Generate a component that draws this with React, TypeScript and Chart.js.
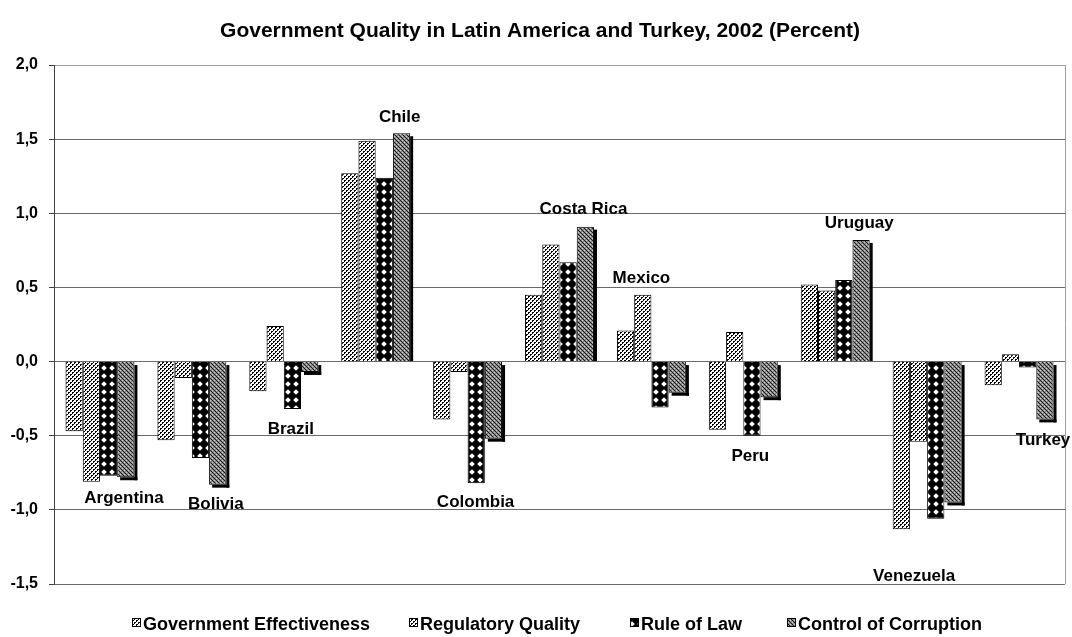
import React, { useEffect, useRef } from 'react';
import { Chart, registerables } from 'chart.js';

Chart.register(...registerables);

const countries = ['Argentina', 'Bolivia', 'Brazil', 'Chile', 'Colombia', 'Costa Rica', 'Mexico', 'Peru', 'Uruguay', 'Venezuela', 'Turkey'];
const seriesNames = ['Government Effectiveness', 'Regulatory Quality', 'Rule of Law', 'Control of Corruption'];
const govEffectiveness = [-0.47, -0.53, -0.2, 1.27, -0.39, 0.45, 0.21, -0.46, 0.52, -1.13, -0.16];
const regulatoryQuality = [-0.81, -0.11, 0.24, 1.49, -0.07, 0.79, 0.45, 0.2, 0.48, -0.54, 0.05];
const ruleOfLaw = [-0.77, -0.65, -0.32, 1.24, -0.82, 0.67, -0.31, -0.5, 0.55, -1.06, -0.04];
const controlOfCorruption = [-0.78, -0.83, -0.07, 1.54, -0.52, 0.91, -0.21, -0.24, 0.82, -0.95, -0.39];
const yMin = -1.5;
const yMax = 2.0;
const yStep = 0.5;
const titleText = 'Government Quality in Latin America and Turkey, 2002 (Percent)';

// label placement (pixel offsets from group centre / extreme bar)
const labelDx = [24, 24, 7, 24, 8, 24, -10, 7, 24, -13, 24];
const labelDy = [15, 18, 19, -17, 18, -19, -18, 19, -18, 46, 20];
const legendX = [132, 409, 630, 787];

const FONT = '"Liberation Sans", Arial, sans-serif';

function makePattern(kind: number): CanvasPattern | string {
  const c = document.createElement('canvas');
  const size = kind === 2 ? 8 : 4;
  c.width = size;
  c.height = size;
  const g = c.getContext('2d');
  if (!g) return '#888';
  if (kind === 0) {
    g.fillStyle = '#fff';
    g.fillRect(0, 0, size, size);
    g.fillStyle = '#000';
    g.fillRect(0, 0, 2, 1);
    g.fillRect(0, 1, 1, 1);
    g.fillRect(2, 2, 2, 1);
    g.fillRect(2, 3, 1, 1);
  } else if (kind === 1) {
    g.fillStyle = '#fff';
    g.fillRect(0, 0, size, size);
    g.fillStyle = '#000';
    for (let y = 0; y < size; y++) {
      for (let x = 0; x < size; x++) {
        if ((x + y) % 4 === 3 || (x + y) % 4 === 2) g.fillRect(x, y, 1, 1);
      }
    }
    g.fillStyle = '#fff';
    for (let y = 0; y < size; y++) {
      for (let x = 0; x < size; x++) {
        if ((x + y) % 4 === 2 && (x % 2 === 0)) g.fillRect(x, y, 1, 1);
      }
    }
  } else if (kind === 2) {
    g.fillStyle = '#fff';
    g.fillRect(0, 0, size, size);
    g.fillStyle = '#000';
    g.beginPath();
    g.moveTo(4, -1.2);
    g.lineTo(9.2, 4);
    g.lineTo(4, 9.2);
    g.lineTo(-1.2, 4);
    g.closePath();
    g.fill();
  } else {
    g.fillStyle = '#8a8a8a';
    g.fillRect(0, 0, size, size);
    g.fillStyle = '#1a1a1a';
    g.fillRect(0, 0, 1, 1);
    g.fillRect(2, 2, 1, 1);
    g.fillRect(1, 1, 1, 1);
    g.fillRect(3, 3, 1, 1);
    g.fillStyle = '#c8c8c8';
    g.fillRect(2, 0, 1, 1);
    g.fillRect(0, 2, 1, 1);
  }
  const p = g.createPattern(c, 'repeat');
  return p || '#888';
}

export default function App() {
  const ref = useRef<HTMLCanvasElement | null>(null);

  useEffect(() => {
    document.body.style.margin = '0';
    const canvas = ref.current;
    if (!canvas) return;
    const patterns = [0, 1, 2, 3].map((k) => makePattern(k));
    const values = [govEffectiveness, regulatoryQuality, ruleOfLaw, controlOfCorruption];

    const decorPlugin = {
      id: 'decor',
      beforeDatasetsDraw(chart: any) {
        const { ctx, chartArea } = chart;
        ctx.save();
        ctx.strokeStyle = '#a0a0a0';
        ctx.lineWidth = 1;
        ctx.beginPath();
        ctx.moveTo(chartArea.right + 0.5, chartArea.top);
        ctx.lineTo(chartArea.right + 0.5, chartArea.bottom);
        ctx.stroke();
        ctx.restore();
      },
      beforeDatasetDraw(chart: any, args: any) {
        if (args.index !== 3) return;
        const { ctx } = chart;
        const meta = chart.getDatasetMeta(3);
        ctx.save();
        ctx.fillStyle = '#000';
        meta.data.forEach((el: any) => {
          const { x, y, base, width } = el.getProps(['x', 'y', 'base', 'width'], true);
          const right = x + width / 2;
          const top = Math.min(y, base);
          const bottom = Math.max(y, base);
          const neg = y > base;
          ctx.fillRect(right, top + 3, 3, bottom - top - 3 + (neg ? 3 : 0));
          if (neg) ctx.fillRect(x - width / 2 + 3, bottom, width, 3);
        });
        ctx.restore();
      },
      afterDraw(chart: any) {
        const { ctx } = chart;
        const xs = chart.scales.x;
        const ys = chart.scales.y;
        ctx.save();
        // title
        ctx.fillStyle = '#000';
        ctx.font = `bold 21px ${FONT}`;
        ctx.textAlign = 'center';
        ctx.textBaseline = 'alphabetic';
        ctx.fillText(titleText, 540, 37);
        // country labels
        ctx.font = `bold 17px ${FONT}`;
        countries.forEach((name, i) => {
          const vals = values.map((s) => s[i]);
          const up = labelDy[i] < 0;
          const ext = up ? Math.max(...vals) : Math.min(...vals);
          const cx = xs.getPixelForValue(i) + labelDx[i];
          const cy = ys.getPixelForValue(ext) + labelDy[i];
          ctx.fillText(name, cx, cy + 6);
        });
        // legend
        ctx.font = `bold 18px ${FONT}`;
        ctx.textAlign = 'left';
        const ly = 623;
        seriesNames.forEach((name, i) => {
          const x = legendX[i];
          ctx.fillStyle = patterns[i] as any;
          ctx.fillRect(x, ly - 5, 9, 9);
          ctx.strokeStyle = '#000';
          ctx.lineWidth = 1;
          ctx.strokeRect(x + 0.5, ly - 4.5, 8, 8);
          ctx.fillStyle = '#000';
          ctx.fillText(name, x + 11, ly + 6.5);
        });
        ctx.restore();
      },
    };

    const chart = new Chart(canvas, {
      type: 'bar',
      data: {
        labels: countries,
        datasets: values.map((data, i) => ({
          label: seriesNames[i],
          data,
          backgroundColor: patterns[i] as any,
          borderColor: '#000',
          borderWidth: 1,
          categoryPercentage: 0.75,
          barPercentage: 1.0,
        })),
      },
      options: {
        responsive: false,
        animation: false,
        layout: { padding: { top: 65, right: 7, bottom: 53, left: 0 } },
        plugins: {
          legend: { display: false },
          title: { display: false },
          tooltip: { enabled: false },
        },
        scales: {
          x: {
            display: false,
            grid: { display: false },
          },
          y: {
            min: yMin,
            max: yMax,
            afterFit: (s: any) => {
              s.width = 54;
            },
            ticks: {
              stepSize: yStep,
              padding: 11,
              color: '#000',
              font: { family: FONT, size: 16, weight: 'bold' },
              callback: (v: any) => Number(v).toFixed(1).replace('.', ','),
            },
            grid: {
              color: (c: any) => (c.tick && c.tick.value === yMax ? '#a0a0a0' : '#6a6a6a'),
              lineWidth: 1,
              drawTicks: true,
              tickLength: 5,
              tickColor: '#404040',
            },
            border: { display: true, color: '#404040', width: 1 },
          },
        },
      },
      plugins: [decorPlugin],
    });
    return () => chart.destroy();
  }, []);

  return (
    <div style={{ width: 1072, height: 637, background: '#fff' }}>
      <canvas ref={ref} width={1072} height={637} style={{ display: 'block', width: 1072, height: 637 }} />
    </div>
  );
}
